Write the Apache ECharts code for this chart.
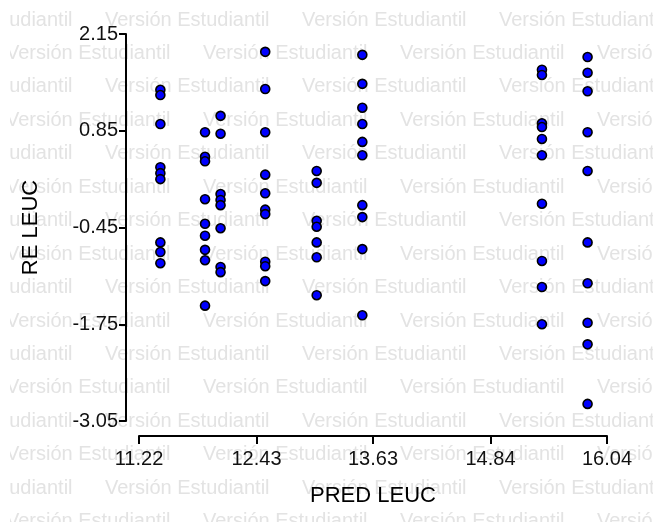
<!DOCTYPE html>
<html><head><meta charset="utf-8">
<script src="https://cdn.jsdelivr.net/npm/echarts@6/dist/echarts.min.js"></script>
<style>html,body{margin:0;padding:0;background:#fff}#c{width:653px;height:522px}</style>
</head><body><div id="c"></div>
<script>
const xTicks = [11.22, 12.43, 13.63, 14.84, 16.04];
const yTicks = [-3.05, -1.75, -0.45, 0.85, 2.15];
const predLeuc = [11.44, 11.90, 12.06, 12.52, 13.05, 13.52, 15.37, 15.84];
const reCol1 = [1.40, 1.33, 0.94, 0.36, 0.28, 0.20, -0.65, -0.78, -0.93];
const reCol2 = [0.83, 0.50, 0.44, -0.07, -0.40, -0.56, -0.75, -0.89, -1.50];
const reCol3 = [1.05, 0.81, 0.00, -0.08, -0.15, -0.46, -0.98, -1.05];
const reCol4 = [1.91, 1.41, 0.83, 0.26, 0.01, -0.21, -0.27, -0.91, -0.97, -1.17];
const reCol5 = [0.31, 0.15, -0.36, -0.44, -0.65, -0.85, -1.36];
const reCol6 = [1.87, 1.48, 1.16, 0.94, 0.70, 0.52, -0.15, -0.31, -0.74, -1.63];
const reCol7 = [1.67, 1.60, 0.95, 0.90, 0.74, 0.52, -0.13, -0.90, -1.25, -1.75];
const reCol8 = [1.84, 1.63, 1.38, 0.83, 0.31, -0.65, -1.20, -1.73, -2.02, -2.82];
const reCols = [reCol1, reCol2, reCol3, reCol4, reCol5, reCol6, reCol7, reCol8];
const watermarkText = 'Versión Estudiantil';

const points = [];
reCols.forEach((col, i) => col.forEach(v => points.push([predLeuc[i], v])));

const FONT = "Arial, 'Liberation Sans', sans-serif";
const wm = [];
for (let r = 0; r < 16; r++) {
  const y = 20 + r * 33.45;
  const start = (r % 2 === 0) ? -92 : 6;
  for (let k = 0; k < 5; k++) {
    wm.push({type: 'text', z: -10, silent: true,
      style: {text: watermarkText, x: start + k * 197, y: y, fill: '#e3e3e3',
        font: '20px ' + FONT, textVerticalAlign: 'middle'}});
  }
}
wm.push({type: 'rect', z: -9, silent: true, shape: {x: 0, y: 0, width: 10, height: 522}, style: {fill: '#fff'}});

const chart = echarts.init(document.getElementById('c'), null, {renderer: 'canvas'});
chart.setOption({
  animation: false,
  backgroundColor: '#fff',
  graphic: {elements: wm},
  grid: {left: 139, right: 46, top: 34, bottom: 101, containLabel: false},
  xAxis: {
    type: 'value', min: 11.22, max: 16.04, offset: 15,
    axisLine: {show: true, onZero: false, lineStyle: {color: '#000', width: 2}},
    axisTick: {show: true, length: 8, customValues: xTicks, lineStyle: {color: '#000', width: 2}},
    axisLabel: {customValues: xTicks, fontSize: 20, color: '#111', margin: 13, fontFamily: FONT,
      formatter: v => v.toFixed(2), hideOverlap: false},
    splitLine: {show: false},
    name: 'PRED LEUC', nameLocation: 'middle', nameGap: 49,
    nameTextStyle: {fontSize: 22, color: '#000', fontFamily: FONT}
  },
  yAxis: {
    type: 'value', min: -3.05, max: 2.15, offset: 13,
    axisLine: {show: true, onZero: false, lineStyle: {color: '#000', width: 2}},
    axisTick: {show: true, length: 7, customValues: yTicks, lineStyle: {color: '#000', width: 2}},
    axisLabel: {customValues: yTicks, fontSize: 20, color: '#111', margin: 8, fontFamily: FONT,
      formatter: v => v.toFixed(2), hideOverlap: false},
    splitLine: {show: false},
    name: 'RE LEUC', nameLocation: 'middle', nameGap: 84, nameRotate: 90,
    nameTextStyle: {fontSize: 22, color: '#000', fontFamily: FONT}
  },
  series: [{
    type: 'scatter', data: points, symbol: 'circle', symbolSize: 9,
    itemStyle: {color: '#0000ff', borderColor: '#000', borderWidth: 1.6, opacity: 1}
  }]
});
</script></body></html>
